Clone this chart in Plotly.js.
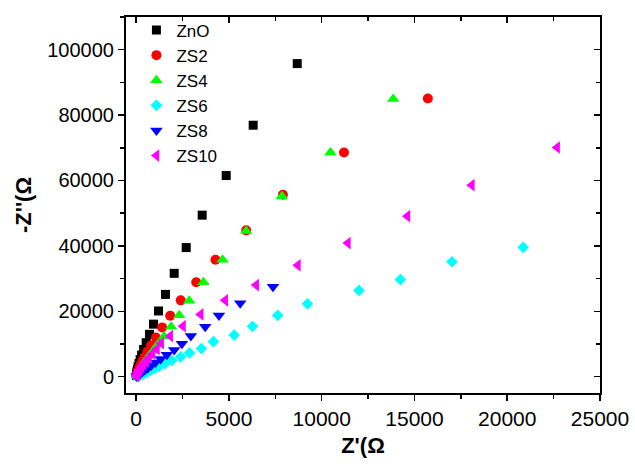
<!DOCTYPE html>
<html>
<head>
<meta charset="utf-8">
<script src="https://cdn.plot.ly/plotly-3.0.1.min.js"></script>
<style>html,body{margin:0;padding:0;background:#fff;}#chart{width:635px;height:466px;}</style>
</head>
<body>
<div id="chart"></div>
<script>
// Series names
const seriesNames = ["ZnO", "ZS2", "ZS4", "ZS6", "ZS8", "ZS10"];

// ZnO
const znoX = [8680, 6306, 4851, 3557, 2695, 2048, 1579, 1202, 932, 717, 539, 400, 290, 210, 150, 100, 70, 40, 20, 10];
const znoY = [95750, 76900, 61510, 49390, 39480, 31600, 25150, 20090, 16060, 12940, 10390, 8300, 6600, 5200, 4000, 3000, 2200, 1500, 900, 400];

// ZS2
const zs2X = [15720, 11200, 7907, 5929, 4274, 3234, 2399, 1833, 1401, 1062, 800, 600, 450, 330, 240, 170, 110, 70, 40, 15];
const zs2Y = [85050, 68570, 55660, 44750, 35750, 28880, 23330, 18640, 15060, 11970, 9500, 7600, 6000, 4700, 3600, 2700, 1900, 1300, 800, 300];

// ZS4
const zs4X = [13850, 10470, 7853, 5929, 4652, 3627, 2857, 2318, 1887, 1500, 1180, 920, 700, 530, 400, 290, 200, 130, 70, 30];
const zs4Y = [84930, 68570, 55150, 44540, 35750, 28880, 23180, 18790, 15300, 12300, 9900, 8000, 6400, 5100, 4000, 3000, 2200, 1500, 900, 400];

// ZS6
const zs6X = [20860, 17020, 14240, 12010, 9233, 7627, 6269, 5282, 4161, 3514, 2873, 2399, 1924, 1550, 1250, 1000, 780, 600, 440, 310, 200, 110, 50];
const zs6Y = [39540, 35150, 29690, 26360, 22270, 18730, 15390, 12730, 10700, 8575, 7270, 6060, 4940, 4000, 3200, 2500, 1900, 1400, 1000, 650, 350, 150, 0];

// ZS8
const zs8X = [7374, 5606, 4458, 3719, 2948, 2463, 2048, 1655, 1320, 1040, 810, 620, 460, 330, 220, 140, 70, 20];
const zs8Y = [27480, 22420, 18700, 15240, 12420, 10090, 8180, 6670, 5400, 4300, 3400, 2600, 2000, 1500, 1000, 600, 300, 100];

// ZS10
const zs10X = [22690, 18090, 14620, 11410, 8715, 6468, 4797, 3477, 2523, 1833, 1348, 1116, 880, 690, 530, 400, 290, 200, 130, 80, 40, 10];
const zs10Y = [70080, 58570, 49090, 40840, 34050, 28000, 23330, 19030, 15450, 12420, 10210, 8390, 7000, 5800, 4700, 3800, 3000, 2300, 1700, 1100, 600, 200];

const xTickVals = [0, 5000, 10000, 15000, 20000, 25000];
const xTickText = ["0", "5000", "10000", "15000", "20000", "25000"];
const yTickVals = [0, 20000, 40000, 60000, 80000, 100000];
const yTickText = ["0", "20000", "40000", "60000", "80000", "100000"];

const xs = [znoX, zs2X, zs4X, zs6X, zs8X, zs10X];
const ys = [znoY, zs2Y, zs4Y, zs6Y, zs8Y, zs10Y];
const styles = [
  {symbol: "square", color: "#000000", size: 9},
  {symbol: "circle", color: "#ff0000", size: 10},
  {symbol: "triangle-up", color: "#00ff00", size: 11},
  {symbol: "diamond", color: "#00ffff", size: 9},
  {symbol: "triangle-down", color: "#0000ff", size: 11},
  {symbol: "triangle-left", color: "#ff00ff", size: 11}
];

const traces = seriesNames.map((n, i) => ({
  type: "scatter", mode: "markers", name: n,
  x: xs[i], y: ys[i],
  marker: {symbol: styles[i].symbol, color: styles[i].color, size: styles[i].size, line: {width: 0}}
}));
// dummy trace for mirror axes
traces.push({type: "scatter", mode: "markers", x: [null], y: [null], xaxis: "x2", yaxis: "y2", showlegend: false, hoverinfo: "skip"});

const fontFam = "Liberation Sans, Arial, sans-serif";
const xRange = [-550, 25000];
const yRange = [-5000, 110000];

const layout = {
  width: 635, height: 466,
  margin: {l: 126, r: 35, t: 13, b: 73},
  paper_bgcolor: "#ffffff", plot_bgcolor: "#ffffff",
  showlegend: true,
  legend: {x: 0.022, y: 1.012, xanchor: "left", yanchor: "top", bgcolor: "rgba(0,0,0,0)",
           font: {family: fontFam, size: 17, color: "#000"}, tracegroupgap: 0, itemsizing: "trace"},
  xaxis: {
    range: xRange, tickvals: xTickVals, ticktext: xTickText, ticks: "outside", ticklen: 6, tickwidth: 1.5, tickcolor: "#000",
    showline: true, linecolor: "#000", linewidth: 2, mirror: true, showgrid: false, zeroline: false,
    tickfont: {family: fontFam, size: 21, color: "#000"},
    minor: {dtick: 2500, ticks: "outside", ticklen: 4, tickwidth: 1.5, tickcolor: "#000", showgrid: false},
    title: {text: "Z'(Ω", font: {family: fontFam, size: 22, color: "#000", weight: "bold"}, standoff: 8}
  },
  yaxis: {
    range: yRange, tickvals: yTickVals, ticktext: yTickText, ticks: "outside", ticklen: 6, tickwidth: 1.5, tickcolor: "#000",
    showline: true, linecolor: "#000", linewidth: 2, mirror: true, showgrid: false, zeroline: false,
    tickfont: {family: fontFam, size: 20, color: "#000"},
    minor: {dtick: 10000, ticks: "outside", ticklen: 4, tickwidth: 1.5, tickcolor: "#000", showgrid: false},
    title: {text: "-Z''(Ω", font: {family: fontFam, size: 22, color: "#000", weight: "bold"}, standoff: 10}
  },
  xaxis2: {
    overlaying: "x", side: "top", range: xRange, tickvals: xTickVals, ticks: "inside", ticklen: 6, tickwidth: 1.5,
    tickcolor: "#000", showticklabels: false, showgrid: false, zeroline: false, showline: false,
    minor: {dtick: 2500, ticks: "inside", ticklen: 4, tickwidth: 1.5, tickcolor: "#000", showgrid: false}
  },
  yaxis2: {
    overlaying: "y", side: "right", range: yRange, tickvals: yTickVals, ticks: "inside", ticklen: 6, tickwidth: 1.5,
    tickcolor: "#000", showticklabels: false, showgrid: false, zeroline: false, showline: false,
    minor: {dtick: 10000, ticks: "inside", ticklen: 4, tickwidth: 1.5, tickcolor: "#000", showgrid: false}
  }
};

Plotly.newPlot("chart", traces, layout, {displayModeBar: false, staticPlot: true});
</script>
</body>
</html>
